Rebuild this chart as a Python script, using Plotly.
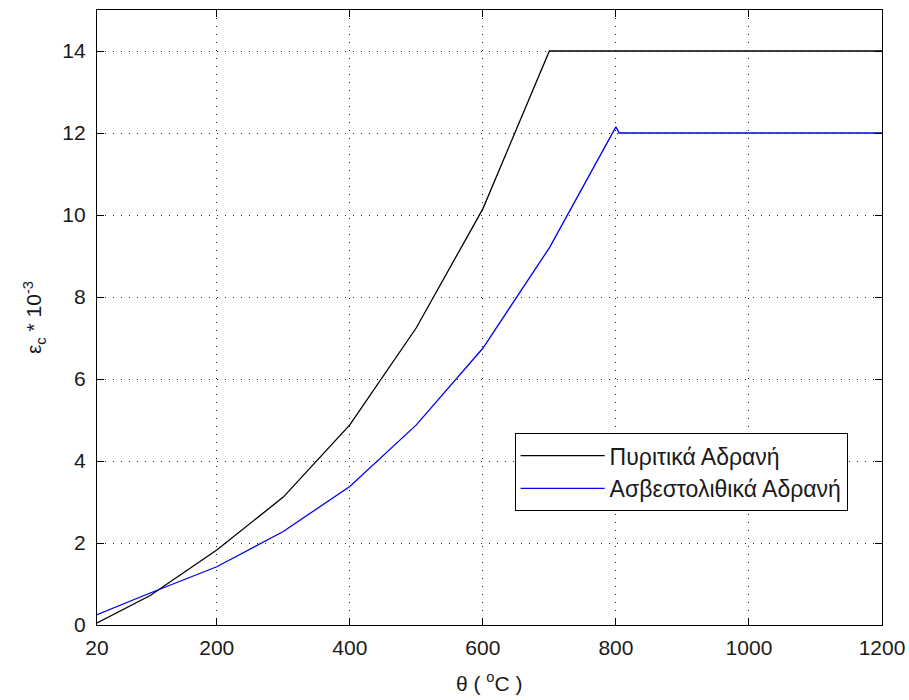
import plotly.graph_objects as go

theta_sil = [20, 100, 200, 300, 400, 500, 600, 700, 800, 900, 1000, 1100, 1200]
eps_sil = [0.05, 0.72, 1.83, 3.12, 4.88, 7.25, 10.15, 14.0, 14.0, 14.0, 14.0, 14.0, 14.0]

theta_cal = [20, 100, 200, 300, 400, 500, 600, 700, 800, 805, 900, 1000, 1100, 1200]
eps_cal = [0.25, 0.78, 1.42, 2.28, 3.38, 4.88, 6.75, 9.2, 12.15, 12.0, 12.0, 12.0, 12.0, 12.0]

x_ticks = [20, 200, 400, 600, 800, 1000, 1200]
y_ticks = [0, 2, 4, 6, 8, 10, 12, 14]

FONT = "Liberation Sans"
TXT = "#1a1a1a"

fig = go.Figure()
fig.add_trace(go.Scatter(x=theta_sil, y=eps_sil, mode="lines",
                         line=dict(color="#000000", width=1.3),
                         name="Πυριτικά Αδρανή"))
fig.add_trace(go.Scatter(x=theta_cal, y=eps_cal, mode="lines",
                         line=dict(color="#0000ee", width=1.3),
                         name="Ασβεστολιθικά Αδρανή"))

axis_common = dict(showline=True, linecolor="black", linewidth=1.2, mirror="ticks",
                   ticks="inside", ticklen=7, tickcolor="black",
                   showgrid=True, gridcolor="#222222", gridwidth=1, griddash="1.2px,6.8px",
                   zeroline=False, automargin=False,
                   tickfont=dict(family=FONT, size=21, color=TXT))

fig.update_xaxes(range=[20, 1200], tickvals=x_ticks, ticktext=[str(v) for v in x_ticks],
                 ticklabelstandoff=4, **axis_common)
fig.update_yaxes(range=[0, 15], tickvals=y_ticks, ticktext=[str(v) for v in y_ticks],
                 ticklabelstandoff=6,
                 title=dict(text="ε<sub>c</sub> * 10<sup>-3</sup>", font=dict(family=FONT, size=21, color=TXT),
                            standoff=14),
                 **axis_common)

fig.add_annotation(text="θ ( <sup>o</sup>C )", xref="paper", yref="paper",
                   x=0.5, y=-0.093, xanchor="center", yanchor="middle", showarrow=False,
                   font=dict(family=FONT, size=21, color=TXT))

fig.update_layout(
    width=909, height=700,
    margin=dict(l=97, r=27, t=10, b=75),
    paper_bgcolor="white", plot_bgcolor="white",
    showlegend=True,
    legend=dict(x=0.532, y=0.312, xanchor="left", yanchor="top",
                bgcolor="white", bordercolor="black", borderwidth=1,
                font=dict(family=FONT, size=23, color=TXT),
                itemwidth=84, tracegroupgap=0),
)

fig.write_html("out.html")
